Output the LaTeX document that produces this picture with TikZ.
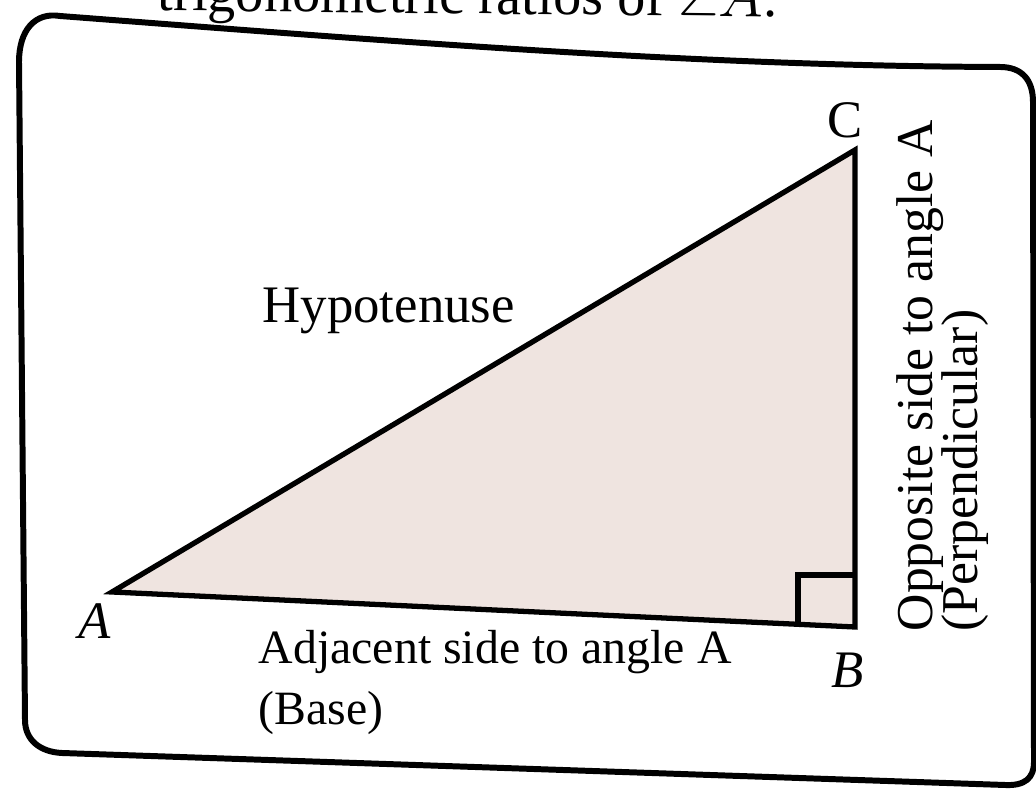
\documentclass[tikz,border=0pt]{standalone}
\usepackage{amsmath,amssymb}
\usepackage{fontspec}
\setmainfont{Liberation Serif}
\usepackage{tikz}
\usetikzlibrary{calc}

\definecolor{paper}{RGB}{239,228,224}
\tikzset{
  side/.style={line width=1.5pt,line join=miter},
  lbl/.style={font=\fontsize{15}{17.6}\selectfont,inner sep=0pt},
}

\begin{document}
\begin{tikzpicture}[x=0.01cm,y=-0.01cm]
 \useasboundingbox (0,0) rectangle (1036,789);
 % ---- caption line, cut by the page edge
 \begin{scope}
  \clip (0,0) rectangle (1036,789);
  \node[lbl,font=\fontsize{16}{18}\selectfont,anchor=base east,rotate=-0.6] (cap) at (778,17) {trigonometric ratios of $\angle A$.};
 \end{scope}
 % ---- frame
 \draw[line width=1.7pt,line join=round]
   (25,720) -- (19,62) .. controls (19,30) and (35,12) .. (60,16)
   .. controls (400,42) and (700,66) .. (1000,67)
   .. controls (1022,67) and (1033,80) .. (1033,102) -- (1034,762)
   .. controls (1034,778) and (1025,786) .. (1005,785)
   -- (62,753) .. controls (40,752) and (25,740) .. (25,720);
 % ---- triangle
 \coordinate (A) at (112,592);
 \coordinate (B) at (855,627);
 \coordinate (C) at (855,150);
 \fill[paper] (A) -- (B) -- (C) -- cycle;
 \draw[side] (A) -- (B) -- (C) -- cycle;
 \draw[side] ($(B)+(-57,-2)$) -- ($(B)+(-57,-52)$) -- ($(B)+(0,-52)$);
 % ---- labels
 \node[lbl,font=\fontsize{15}{17.6}\itshape] (lA) at (95,621) {A};
 \node[lbl,font=\fontsize{15}{17.6}\itshape] (lB) at (848,670) {B};
 \node[lbl] (lC) at (845,120) {C};
 \node[lbl,anchor=base west] (hyp) at (262,323) {Hypotenuse};
 \node[lbl,font=\fontsize{13.6}{17.6}\selectfont,align=left,anchor=base west] (adj) at (258,725) {Adjacent side to angle A\\(Base)};
 \node[lbl,font=\fontsize{14.7}{17.6}\selectfont,anchor=base west,rotate=90] (opp) at (932,632) {Opposite side to angle A};
 \node[lbl,font=\fontsize{14.7}{17.6}\selectfont,anchor=base west,rotate=90] (perp) at (977,632) {(Perpendicular)};
\end{tikzpicture}
\end{document}
